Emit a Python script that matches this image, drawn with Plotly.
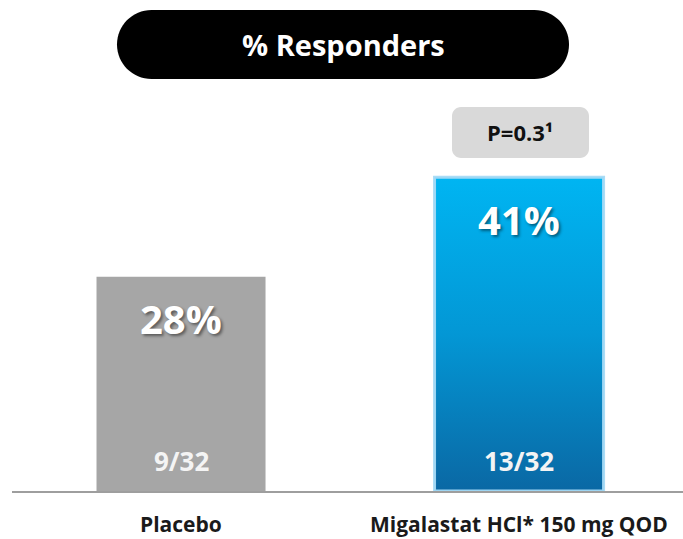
import plotly.graph_objects as go

# Responder analysis: share of patients meeting the response criterion
categories = ["Placebo", "Migalastat HCl* 150 mg QOD"]
responders = [9, 13]
patients = [32, 32]
percent = [28, 41]
p_value_label = "P=0.3¹"
title_text = "% Responders"

FONT = "Open Sans"
BAR_WIDTH = 0.5
GRAY = "#a6a6a6"

x_pos = list(range(len(categories)))


def rounded_path(half_w, half_h, r):
    """SVG path (pixel units, centred on the anchor) for a rounded rectangle."""
    k = 0.5523 * r
    xl, xr, yt, yb = -half_w, half_w, -half_h, half_h
    return (
        f"M {xl + r},{yt} L {xr - r},{yt} "
        f"C {xr - r + k},{yt} {xr},{yt + r - k} {xr},{yt + r} "
        f"L {xr},{yb - r} "
        f"C {xr},{yb - r + k} {xr - r + k},{yb} {xr - r},{yb} "
        f"L {xl + r},{yb} "
        f"C {xl + r - k},{yb} {xl},{yb - r + k} {xl},{yb - r} "
        f"L {xl},{yt + r} "
        f"C {xl},{yt + r - k} {xl + r - k},{yt} {xl + r},{yt} Z"
    )


fig = go.Figure()

# Base bars (placebo grey, treatment blue underneath the gradient overlay)
fig.add_trace(go.Bar(
    x=x_pos,
    y=percent,
    width=BAR_WIDTH,
    marker=dict(color=[GRAY, "#0396d4"], line=dict(width=0)),
    hoverinfo="skip",
    showlegend=False,
))

# Vertical gradient fill for the treatment bar
i = 1
xl, xr = x_pos[i] - BAR_WIDTH / 2, x_pos[i] + BAR_WIDTH / 2
fig.add_trace(go.Scatter(
    x=[xl, xr, xr, xl, xl],
    y=[0, 0, percent[i], percent[i], 0],
    mode="lines",
    fill="toself",
    fillgradient=dict(
        type="vertical",
        start=0,
        stop=percent[i],
        colorscale=[[0, "#0a68a4"], [0.5, "#0397d5"], [1, "#00b5f2"]],
    ),
    line=dict(color="rgba(165,218,246,0.95)", width=3),
    hoverinfo="skip",
    showlegend=False,
))

annotations = []
shadow = "2px 2px 3px rgba(0,0,0,0.45)"
for xi, pct, r, n, cat in zip(x_pos, percent, responders, patients, categories):
    # percentage near the bar top
    annotations.append(dict(
        x=xi, y=pct, xref="x", yref="y", text=f"{pct}%", showarrow=False,
        yanchor="middle", yshift=-42,
        font=dict(family=FONT, size=40, color="white", weight="bold", shadow=shadow),
    ))
    # responders / patients near the base
    annotations.append(dict(
        x=xi, y=0, xref="x", yref="y", text=f"{r}/{n}", showarrow=False,
        yanchor="middle", yshift=30,
        font=dict(family=FONT, size=26, color="#f4f4f4", weight="bold"),
    ))
    # category label below the axis
    annotations.append(dict(
        x=xi, y=0, xref="x", yref="paper", text=cat, showarrow=False,
        yanchor="middle", yshift=-33,
        font=dict(family=FONT, size=21, color="#1a1a1a", weight="bold"),
    ))

# Header pill and p-value badge
annotations.append(dict(
    x=0.4933, y=1.1419, xref="paper", yref="paper", text=title_text,
    showarrow=False, xanchor="center", yanchor="middle",
    font=dict(family=FONT, size=29, color="white", weight="bold"),
))
annotations.append(dict(
    x=0.7578, y=0.9169, xref="paper", yref="paper", text=p_value_label,
    showarrow=False, xanchor="center", yanchor="middle",
    font=dict(family=FONT, size=22, color="#111111", weight="bold"),
))

shapes = [
    dict(type="path", xref="paper", yref="paper", xsizemode="pixel", ysizemode="pixel",
         xanchor=0.4933, yanchor=1.1419, path=rounded_path(226, 34.5, 34.5),
         fillcolor="black", line=dict(width=0), layer="below"),
    dict(type="path", xref="paper", yref="paper", xsizemode="pixel", ysizemode="pixel",
         xanchor=0.7578, yanchor=0.9169, path=rounded_path(68.5, 25.5, 9),
         fillcolor="#d9d9d9", line=dict(width=0), layer="below"),
]

fig.update_layout(
    width=683,
    height=539,
    margin=dict(l=12, r=0, t=100, b=48),
    paper_bgcolor="white",
    plot_bgcolor="white",
    showlegend=False,
    annotations=annotations,
    shapes=shapes,
    xaxis=dict(
        range=[-0.5, 1.485],
        showgrid=False, zeroline=False, showticklabels=False, ticks="",
        showline=True, linecolor="#9e9e9e", linewidth=2,
        fixedrange=True,
    ),
    yaxis=dict(
        range=[0, 51.1],
        visible=False, showgrid=False, zeroline=False,
        fixedrange=True,
    ),
)

fig.write_html("out.html")
